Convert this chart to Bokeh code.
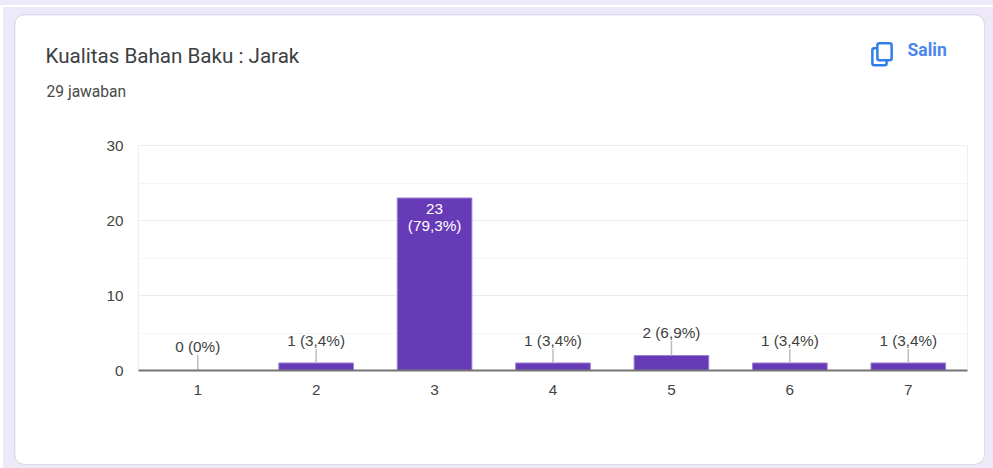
from bokeh.embed import file_html
from bokeh.resources import INLINE
from bokeh.plotting import figure
from bokeh.core.properties import value
from bokeh.models import ColumnDataSource, GlobalInlineStyleSheet, Label, FixedTicker

categories = ["1", "2", "3", "4", "5", "6", "7"]
counts = [0, 1, 23, 1, 2, 1, 1]
outside_labels = ["0 (0%)", "1 (3,4%)", None, "1 (3,4%)", "2 (6,9%)", "1 (3,4%)", "1 (3,4%)"]
leader_lengths = [2.1, 1.85, None, 1.85, 2.0, 1.85, 1.85]
inside_lines = ["23", "(79,3%)"]
title_text = "Kualitas Bahan Baku : Jarak"
subtitle_text = "29 jawaban"
copy_text = "Salin"
y_ticks = [0, 10, 20, 30]
y_minor_grid = [5, 15, 25]

LAVENDER = "#ede9f8"
page_css = GlobalInlineStyleSheet(css=(
    "html,body{"
    "background:linear-gradient(#fff,#fff) 0 7px/3px 100% no-repeat,"
    f"linear-gradient({LAVENDER} 5px,#fff 5px,#fff 7px,{LAVENDER} 7px);"
    "}"
))

p = figure(width=969, height=449, output_backend="svg", toolbar_location=None,
           x_range=categories, y_range=(0, 30),
           min_border_left=123, min_border_right=17, min_border_top=130, min_border_bottom=94,
           border_fill_color="white", background_fill_color="white",
           outline_line_color="#eeeeee", stylesheets=[page_css],
           styles={"margin": "15px 0 0 15px", "border-radius": "10px", "overflow": "hidden",
                   "box-shadow": "0 0 0 1px #dcdae6"})

p.xgrid.visible = False
p.ygrid.ticker = FixedTicker(ticks=y_ticks, minor_ticks=y_minor_grid)
p.ygrid.grid_line_color = "#ebebeb"
p.ygrid.minor_grid_line_color = "#f5f5f5"

bar_src = ColumnDataSource(dict(x=categories, top=counts))
p.vbar(x="x", top="top", bottom=0, width=0.63, source=bar_src,
       fill_color="#673ab7", line_color="#9a7fd1", line_width=1)

lead_x = [c for c, l in zip(categories, outside_labels) if l]
lead_bottom = [v for v, l in zip(counts, outside_labels) if l]
lead_top = [v + n for v, n in zip(counts, leader_lengths) if n]
lead_txt = [l for l in outside_labels if l]
p.segment(x0=lead_x, x1=lead_x, y0=lead_bottom, y1=lead_top, line_color="#bdbdbd", line_width=1.5)
p.text(x=lead_x, y=lead_top, text=lead_txt, text_align="center", text_baseline="bottom",
       y_offset=0, text_font=value("Liberation Sans"), text_font_size="15.3px", text_color="#3f3f3f")

big = counts.index(max(counts))
p.text(x=[categories[big]] * 2, y=[counts[big]] * 2, text=inside_lines, text_align="center",
       text_baseline="top", y_offset=[6, 19], text_font=value("Liberation Sans"),
       text_font_size="15.3px", text_color="#ffffff")

p.yaxis.ticker = FixedTicker(ticks=y_ticks)
p.yaxis.axis_line_color = None
p.yaxis.major_tick_line_color = None
p.yaxis.minor_tick_line_color = None
p.yaxis.major_label_standoff = 9
p.yaxis.major_label_text_font = "Liberation Sans"
p.yaxis.major_label_text_font_size = "15.3px"
p.yaxis.major_label_text_color = "#444444"
p.xaxis.axis_line_color = "#757575"
p.xaxis.axis_line_width = 2
p.xaxis.major_tick_line_color = None
p.xaxis.major_label_standoff = 8
p.xaxis.major_label_text_font = "Liberation Sans"
p.xaxis.major_label_text_font_size = "15.3px"
p.xaxis.major_label_text_color = "#444444"

# Labels in the "above" panel stack; y counts up from each label's own panel bottom.
p.add_layout(Label(x=-92, y=54, x_units="screen", y_units="screen", text=subtitle_text,
                   text_font="Roboto", text_font_size="15.6px", text_color="#4a4a4a",
                   text_baseline="middle"), "above")
p.add_layout(Label(x=-93, y=72, x_units="screen", y_units="screen", text=title_text,
                   text_font="Roboto", text_font_size="20.6px", text_color="#3c4043",
                   text_baseline="middle"), "above")
p.add_layout(Label(x=769, y=53.5, x_units="screen", y_units="screen", text=copy_text,
                   text_font="Roboto", text_font_size="17.5px", text_font_style="bold",
                   text_color="#4a86ee", text_baseline="middle"), "above")

ICON = "#2f7fe8"
p.add_layout(Label(x=741, y=26.7, x_units="screen", y_units="screen", text=" ", text_font_size="1px",
                   text_align="center", text_baseline="middle", padding=(7, 8),
                   border_line_color=ICON, border_line_width=2.5, border_radius=2,
                   background_fill_color="white"), "above")
p.add_layout(Label(x=746, y=14.7, x_units="screen", y_units="screen", text=" ", text_font_size="1px",
                   text_align="center", text_baseline="middle", padding=(7, 8),
                   border_line_color=ICON, border_line_width=2.5, border_radius=2,
                   background_fill_color="white"), "above")

open("out.html", "w").write(file_html(p, INLINE))
